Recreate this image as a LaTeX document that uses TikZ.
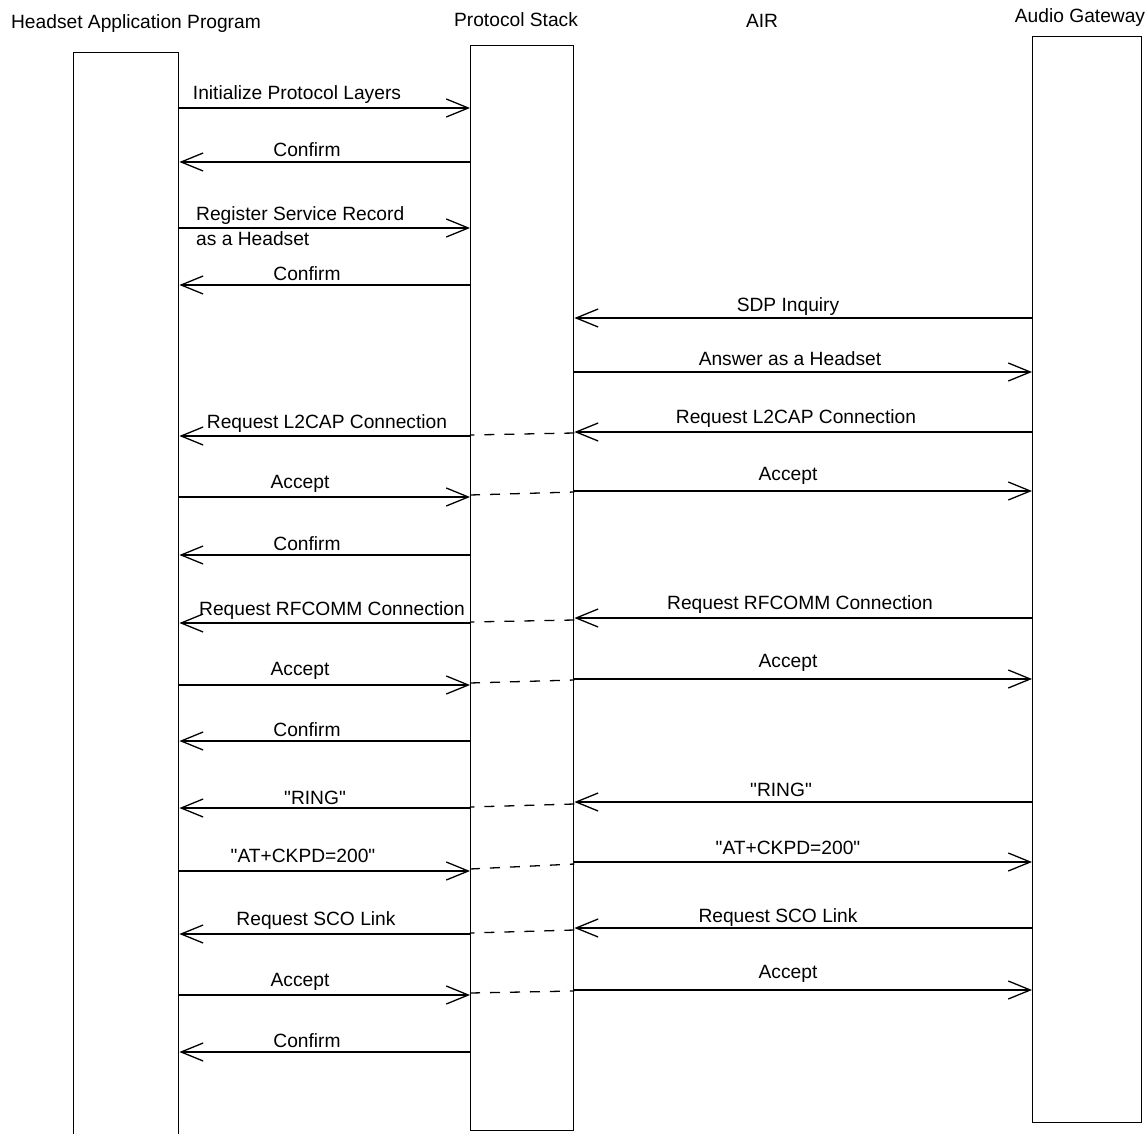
\documentclass[tikz,border=0pt]{standalone}
\usepackage{fontspec}
\setmainfont{Liberation Sans}
\usetikzlibrary{arrows.meta}
\begin{document}
\begin{tikzpicture}[x=1pt,y=-1pt,
  every node/.style={font=\fontsize{19.2}{23}\selectfont},
  lane/.style={draw, line width=1.4pt, inner sep=0pt, anchor=north west},
  msg/.style={line width=1.3pt, -{Straight Barb[length=22pt,width=18pt,line width=1.3pt]}},
  gap/.style={line width=1.3pt, dash pattern=on 10pt off 10pt},
  lbl/.style={anchor=base, inner sep=0pt},
  head/.style={anchor=base, inner sep=0pt}]
\clip (0,0) rectangle (1148,1134);
\fill[white] (0,0) rectangle (1148,1134);
% headers
\node[head] (h1) at (136,29) {Headset\ Application Program};
\node[head] (h2) at (516,27) {Protocol Stack};
\node[head] (h3) at (762,28) {AIR};
\node[head] (h4) at (1080,23) {Audio Gateway};
% lanes
\node[lane, minimum width=105pt, minimum height=1120pt] (hap) at (73,52) {};
\node[lane, minimum width=103pt, minimum height=1085pt] (ps) at (470,45) {};
\node[lane, minimum width=109pt, minimum height=1086pt] (ag) at (1032,36) {};
% 1
\draw[msg] (hap.east |- 0,108) -- (ps.west |- 0,108);
\node[lbl] (l1) at (297,100) {Initialize Protocol Layers};
% 2
\draw[msg] (ps.west |- 0,162) -- (hap.east |- 0,162);
\node[lbl] (l2) at (307,157) {Confirm};
% 3
\draw[msg] (hap.east |- 0,228) -- (ps.west |- 0,228);
\node[lbl, anchor=base west] (l3a) at (196,221) {Register Service Record};
\node[lbl, anchor=base west] (l3b) at (196,245) {as a Headset};
% 4
\draw[msg] (ps.west |- 0,285) -- (hap.east |- 0,285);
\node[lbl] (l4) at (307,280) {Confirm};
% 5
\draw[msg] (ag.west |- 0,318) -- (ps.east |- 0,318);
\node[lbl] (l5) at (788,311) {SDP Inquiry};
% 6
\draw[msg] (ps.east |- 0,372) -- (ag.west |- 0,372);
\node[lbl] (l6) at (790,365) {Answer as a Headset};
% 7
\draw[msg] (ag.west |- 0,432) -- (ps.east |- 0,432);
\draw[gap] (ps.east |- 0,433) -- (ps.west |- 0,435);
\draw[msg] (ps.west |- 0,436) -- (hap.east |- 0,436);
\node[lbl] (l7r) at (796,423) {Request L2CAP Connection};
\node[lbl] (l7l) at (327,428) {Request L2CAP Connection};
% 8
\draw[msg] (hap.east |- 0,497) -- (ps.west |- 0,497);
\draw[gap] (ps.west |- 0,495) -- (ps.east |- 0,492);
\draw[msg] (ps.east |- 0,491) -- (ag.west |- 0,491);
\node[lbl] (l8l) at (300,488) {Accept};
\node[lbl] (l8r) at (788,480) {Accept};
% 9
\draw[msg] (ps.west |- 0,555) -- (hap.east |- 0,555);
\node[lbl] (l9) at (307,550) {Confirm};
% 10
\draw[msg] (ag.west |- 0,618) -- (ps.east |- 0,618);
\draw[gap] (ps.east |- 0,620) -- (ps.west |- 0,622);
\draw[msg] (ps.west |- 0,623) -- (hap.east |- 0,623);
\node[lbl] (l10r) at (800,609) {Request RFCOMM Connection};
\node[lbl] (l10l) at (332,615) {Request RFCOMM Connection};
% 11
\draw[msg] (hap.east |- 0,685) -- (ps.west |- 0,685);
\draw[gap] (ps.west |- 0,683) -- (ps.east |- 0,680);
\draw[msg] (ps.east |- 0,679) -- (ag.west |- 0,679);
\node[lbl] (l11l) at (300,675) {Accept};
\node[lbl] (l11r) at (788,667) {Accept};
% 12
\draw[msg] (ps.west |- 0,741) -- (hap.east |- 0,741);
\node[lbl] (l12) at (307,736) {Confirm};
% 13
\draw[msg] (ag.west |- 0,802) -- (ps.east |- 0,802);
\draw[gap] (ps.east |- 0,804) -- (ps.west |- 0,807);
\draw[msg] (ps.west |- 0,808) -- (hap.east |- 0,808);
\node[lbl] (l13r) at (781,796) {\textquotedbl RING\textquotedbl};
\node[lbl] (l13l) at (315,804) {\textquotedbl RING\textquotedbl};
% 14
\draw[msg] (hap.east |- 0,871) -- (ps.west |- 0,871);
\draw[gap] (ps.west |- 0,869) -- (ps.east |- 0,864);
\draw[msg] (ps.east |- 0,862) -- (ag.west |- 0,862);
\node[lbl] (l14l) at (303,862) {\textquotedbl AT+CKPD=200\textquotedbl};
\node[lbl] (l14r) at (788,854) {\textquotedbl AT+CKPD=200\textquotedbl};
% 15
\draw[msg] (ag.west |- 0,928) -- (ps.east |- 0,928);
\draw[gap] (ps.east |- 0,930) -- (ps.west |- 0,933);
\draw[msg] (ps.west |- 0,934) -- (hap.east |- 0,934);
\node[lbl] (l15r) at (778,922) {Request SCO Link};
\node[lbl] (l15l) at (316,925) {Request SCO Link};
% 16
\draw[msg] (hap.east |- 0,995) -- (ps.west |- 0,995);
\draw[gap] (ps.west |- 0,993) -- (ps.east |- 0,991);
\draw[msg] (ps.east |- 0,990) -- (ag.west |- 0,990);
\node[lbl] (l16l) at (300,986) {Accept};
\node[lbl] (l16r) at (788,978) {Accept};
% 17
\draw[msg] (ps.west |- 0,1052) -- (hap.east |- 0,1052);
\node[lbl] (l17) at (307,1047) {Confirm};
\end{tikzpicture}
\end{document}
